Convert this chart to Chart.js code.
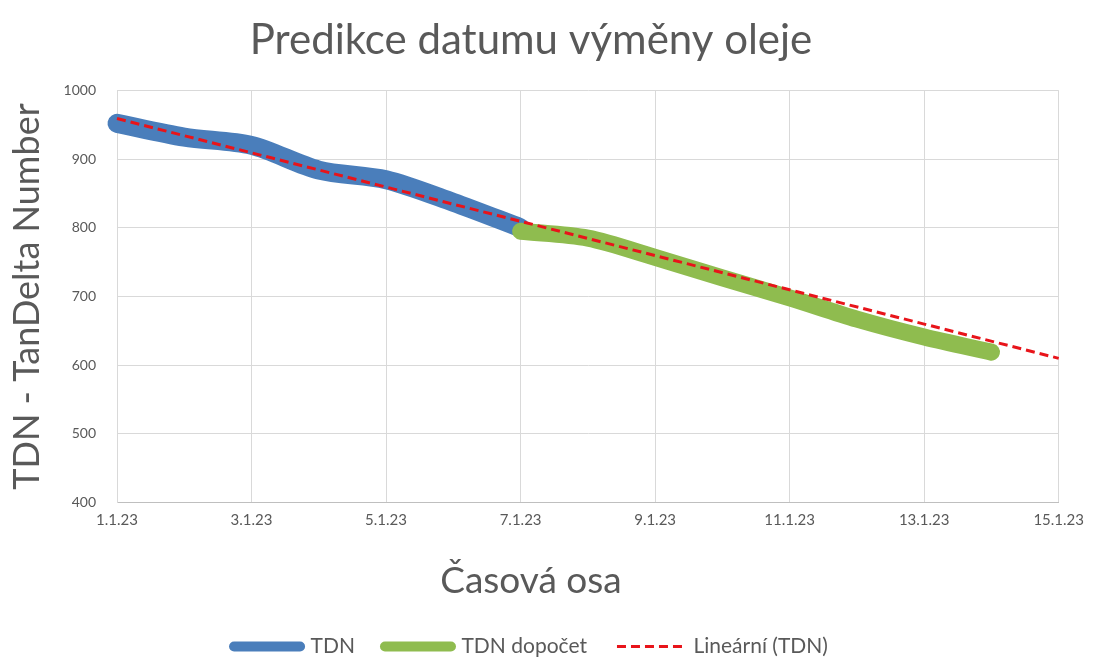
<!DOCTYPE html>
<html>
<head>
<meta charset="utf-8">
<script src="https://cdn.jsdelivr.net/npm/chart.js@4"></script>
<style>
    html, body { margin: 0; background: #fff; }
    #wrap { width: 1093px; height: 660px; }
</style>
</head>
<body>
<div id="wrap"><canvas id="oil-chart"></canvas></div>
<script>
// values
const days = ['1.1.23', '2.1.23', '3.1.23', '4.1.23', '5.1.23', '6.1.23', '7.1.23', '8.1.23',
    '9.1.23', '10.1.23', '11.1.23', '12.1.23', '13.1.23', '14.1.23', '15.1.23'];
const tdn = [952, 932, 920, 884, 870, 837, 800, null, null, null, null, null, null, null, null];
const tdn_dopocet = [null, null, null, null, null, null, 795, 785, 757, 727, 698, 667, 641, 619, null];
// linear trend of TDN, ends
const trend = [959, null, null, null, null, null, null, null, null, null, null, null, null, null, 610];
const y_ticks = [400, 500, 600, 700, 800, 900, 1000];

const text_color = '#595959';
const grid_color = '#d9d9d9';
const font_family = 'Lato, "Open Sans", sans-serif';
const legend_line_widths = [10, 10, 3];

const chart = document.getElementById('oil-chart');

new Chart(chart, {
    type: 'line',
    data: {
        labels: days,
        datasets: [{
            label: 'TDN',
            data: tdn,
            borderColor: '#4a7ebb',
            backgroundColor: '#4a7ebb',
            borderWidth: 19,
            borderCapStyle: 'round',
            borderJoinStyle: 'round',
            tension: 0.3,
            pointRadius: 0,
            clip: false,
            order: 2
        }, {
            label: 'TDN dopočet',
            data: tdn_dopocet,
            borderColor: '#8fbc4f',
            backgroundColor: '#8fbc4f',
            borderWidth: 17,
            borderCapStyle: 'round',
            borderJoinStyle: 'round',
            tension: 0.3,
            pointRadius: 0,
            clip: false,
            order: 1
        }, {
            label: 'Lineární (TDN)',
            data: trend,
            borderColor: '#e8141a',
            backgroundColor: '#e8141a',
            borderWidth: 3,
            borderDash: [9, 5],
            spanGaps: true,
            pointRadius: 0,
            clip: false,
            order: 0
        }]
    },
    options: {
        responsive: true,
        maintainAspectRatio: false,
        animation: false,
        layout: {
            padding: { left: 2, right: 33, top: 0, bottom: -7 }
        },
        plugins: {
            title: {
                display: true,
                text: 'Predikce datumu výměny oleje',
                color: text_color,
                font: { family: font_family, size: 42, weight: 'normal' },
                padding: { top: 15, bottom: 25 }
            },
            // x axis caption, centred on the whole chart like in the original
            subtitle: {
                display: true,
                position: 'bottom',
                weight: 500,
                text: 'Časová osa',
                color: text_color,
                font: { family: font_family, size: 37, weight: 'normal' },
                padding: { top: 20, bottom: 3 }
            },
            legend: {
                position: 'bottom',
                labels: {
                    usePointStyle: true,
                    pointStyle: 'line',
                    pointStyleWidth: 66,
                    boxHeight: 10,
                    padding: 30,
                    color: text_color,
                    font: { family: font_family, size: 21 },
                    generateLabels(chart) {
                        const items = Chart.defaults.plugins.legend.labels.generateLabels(chart);
                        items.sort((a, b) => a.datasetIndex - b.datasetIndex);
                        items.forEach((item, i) => {
                            const ds = chart.data.datasets[item.datasetIndex];
                            item.lineWidth = legend_line_widths[i];
                            item.strokeStyle = ds.borderColor;
                            item.lineDash = ds.borderDash || [];
                            item.lineCap = ds.borderDash ? 'butt' : 'round';
                        });
                        return items;
                    }
                }
            },
            tooltip: { enabled: false }
        },
        scales: {
            x: {
                grid: {
                    color: (ctx) => ctx.index % 2 === 0 ? grid_color : 'rgba(0,0,0,0)',
                    drawTicks: false
                },
                border: { color: '#bfbfbf' },
                ticks: {
                    autoSkip: false,
                    maxRotation: 0,
                    padding: 9,
                    color: text_color,
                    font: { family: font_family, size: 15 },
                    callback: function (value, index) {
                        return index % 2 === 0 ? this.getLabelForValue(value) : '';
                    }
                }
            },
            y: {
                min: y_ticks[0],
                max: y_ticks[y_ticks.length - 1],
                grid: { color: grid_color, drawTicks: false },
                border: { color: grid_color },
                afterBuildTicks: (scale) => {
                    scale.ticks = y_ticks.map(v => ({ value: v }));
                },
                afterFit: (scale) => {
                    scale.width = 115;
                },
                ticks: {
                    padding: 21,
                    color: text_color,
                    font: { family: font_family, size: 14 },
                    callback: (value) => String(value)
                },
                title: {
                    display: true,
                    text: 'TDN - TanDelta Number',
                    color: text_color,
                    font: { family: font_family, size: 36 },
                    padding: { top: 4, bottom: 0 }
                }
            }
        }
    }
});
</script>
</body>
</html>
